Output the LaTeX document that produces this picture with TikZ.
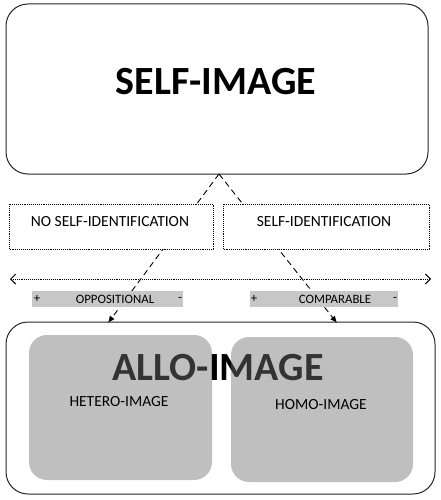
\documentclass[tikz,border=0pt]{standalone}
\usepackage{fontspec}
\setmainfont{Carlito}
\usetikzlibrary{arrows.meta}
\begin{document}
\begin{tikzpicture}[x=1pt,y=-1pt,
  bigbox/.style={draw=black!85,line width=1pt,rounded corners=22pt},
  idbox/.style={draw=black,densely dotted,line width=0.9pt,fill=white},
  greybar/.style={fill=black!22},
  subbox/.style={fill={rgb,255:red,114;green,114;blue,114},fill opacity=0.45,rounded corners=18pt},
  conn/.style={line width=0.9pt,dash pattern=on 6pt off 4pt,-{Latex[length=7pt,width=6pt]}},
  tiny/.style={font=\fontsize{12.8}{14}\selectfont}]
\useasboundingbox (0,0) rectangle (441,500);
% top box
\draw[bigbox] (6,4) rectangle (428,174);
\node[font=\bfseries\fontsize{40}{44}\selectfont] (self) at (216,82) {SELF-IMAGE};
\coordinate (apex) at (219,174);
\coordinate (tl) at (108,323);
\coordinate (tr) at (337,323);
% connectors
\draw[conn] (apex) -- (tl);
\draw[conn] (apex) -- (tr);
% id boxes
\draw[idbox] (9,204) rectangle (213,249);
\node[font=\fontsize{15.5}{17}\selectfont] (noid) at (110,222) {NO SELF-IDENTIFICATION};
\draw[idbox] (223,204) rectangle (429,249);
\node[font=\fontsize{15.5}{17}\selectfont] (id) at (324,222) {SELF-IDENTIFICATION};
% double arrow
\coordinate (dl) at (10,279);
\coordinate (dr) at (431,279);
\draw[densely dotted,line width=0.9pt,{Straight Barb[length=5pt,width=10pt]}-{Straight Barb[length=5pt,width=10pt]}] (dl) -- (dr);
% grey bars
\fill[greybar] (32,291) rectangle (183,307);
\node[tiny] (p1) at (37,299) {+};
\node[tiny] (opp) at (115,299) {OPPOSITIONAL};
\node[tiny] (m1) at (180,299) {-};
\fill[greybar] (250,291) rectangle (398,307);
\node[tiny] (p2) at (254,299) {+};
\node[tiny] (comp) at (335,299) {COMPARABLE};
\node[tiny] (m2) at (395,299) {-};
% bottom box
\draw[bigbox] (6,322) rectangle (435,494);
\node[font=\bfseries\fontsize{40}{44}\selectfont] (allo) at (218,368) {ALLO-IMAGE};
\fill[subbox] (29,335) rectangle (212,480);
\fill[subbox] (231,337) rectangle (413,482);
\node[font=\fontsize{15.5}{17}\selectfont] (het) at (119,402) {HETERO-IMAGE};
\node[font=\fontsize{15.5}{17}\selectfont] (hom) at (321,405) {HOMO-IMAGE};
\end{tikzpicture}
\end{document}
